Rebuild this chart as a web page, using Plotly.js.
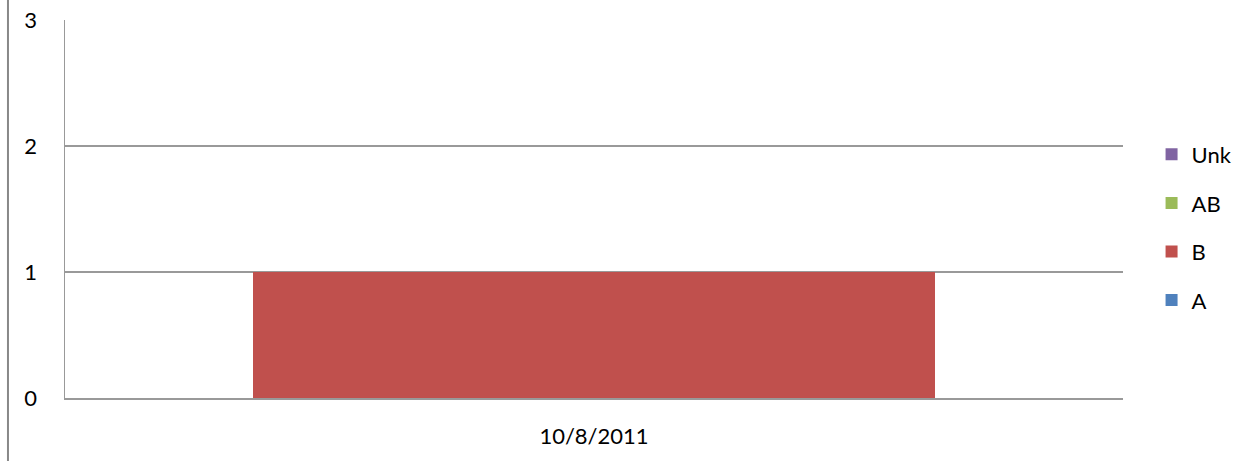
<!DOCTYPE html>
<html>
<head>
<meta charset="utf-8">
<script src="https://cdn.plot.ly/plotly-3.0.1.min.js"></script>
<style>html,body{margin:0;padding:0;background:#fff;}#chart{width:1248px;height:461px;}</style>
</head>
<body>
<div id="chart"></div>
<script>
const categories = ["10/8/2011"];
const seriesNames = ["A", "B", "AB", "Unk"];
const valuesA = [0];
const valuesB = [1];
const valuesAB = [0];
const valuesUnk = [0];
const colors = ["#4F81BD", "#C0504D", "#9BBB59", "#8064A2"];
const yTicks = [0, 1, 2, 3];

const allValues = [valuesA, valuesB, valuesAB, valuesUnk];
const traces = seriesNames.map((name, i) => ({
  type: "bar",
  name: name,
  x: categories,
  y: allValues[i],
  marker: {color: colors[i]},
  legendgroup: name,
  legendrank: seriesNames.length - i,
  hoverinfo: "skip"
}));

const font = {family: "Lato, 'Open Sans', sans-serif", size: 22, color: "#000"};
const layout = {
  width: 1248, height: 461,
  margin: {l: 65, r: 125, t: 20, b: 63, autoexpand: false},
  barmode: "stack",
  bargap: 0.356,
  font: font,
  paper_bgcolor: "#fff",
  plot_bgcolor: "#fff",
  showlegend: true,
  legend: {
    x: 1.027, xanchor: "left",
    y: 0.451, yanchor: "middle",
    traceorder: "grouped",
    tracegroupgap: 17,
    font: font,
    bgcolor: "rgba(0,0,0,0)",
    itemwidth: 30
  },
  xaxis: {
    type: "category",
    showgrid: false,
    showline: true,
    linecolor: "#999999",
    linewidth: 1.5,
    ticks: "",
    ticklabelstandoff: 18,
    tickfont: font,
    fixedrange: true
  },
  yaxis: {
    range: [0, 3],
    tickvals: yTicks,
    ticktext: yTicks.map(String),
    showgrid: true,
    gridcolor: "#999999",
    gridwidth: 1.5,
    showline: true,
    linecolor: "#999999",
    linewidth: 1.5,
    zeroline: false,
    ticks: "",
    ticklabelstandoff: 22,
    tickfont: font,
    fixedrange: true
  },
  shapes: [{
    type: "line", xref: "paper", yref: "paper",
    x0: -0.0539, x1: -0.0539, y0: -0.2, y1: 1.1,
    line: {color: "#888888", width: 2}
  }]
};

Plotly.newPlot("chart", traces, layout, {displayModeBar: false, staticPlot: true});
</script>
</body>
</html>
